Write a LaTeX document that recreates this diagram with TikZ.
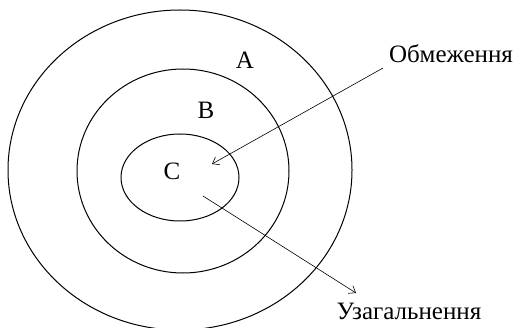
\documentclass[tikz,border=0pt]{standalone}
\usepackage{fontspec}
\setmainfont{Liberation Serif}
\usetikzlibrary{arrows.meta}
\tikzset{
  ring/.style={draw, line width=1pt},
  lbl/.style={font=\fontsize{25}{30}\selectfont, inner sep=0pt},
  conn/.style={line width=0.6pt, -{Straight Barb[length=6pt,width=9pt]}}
}
\begin{document}
\begin{tikzpicture}[x=1pt,y=-1pt]
\useasboundingbox (0,0) rectangle (518,328);
\draw[ring] (180,170) ellipse [x radius=172, y radius=160];
\draw[ring] (183,171) ellipse [x radius=106, y radius=102];
\draw[ring] (180,177.5) ellipse [x radius=59, y radius=43.5];
\node[lbl] (A) at (245,60) {A};
\node[lbl] (B) at (206,110) {B};
\node[lbl] (C) at (172,171) {C};
\node[lbl] (obm) at (451,54) {Обмеження};
\node[lbl] (uzag) at (409,311) {Узагальнення};
\coordinate (o1) at (383,68);
\coordinate (o2) at (212,164);
\coordinate (u1) at (203,196);
\coordinate (u2) at (356,293);
\draw[conn] (o1) -- (o2);
\draw[conn] (u1) -- (u2);
\end{tikzpicture}
\end{document}
